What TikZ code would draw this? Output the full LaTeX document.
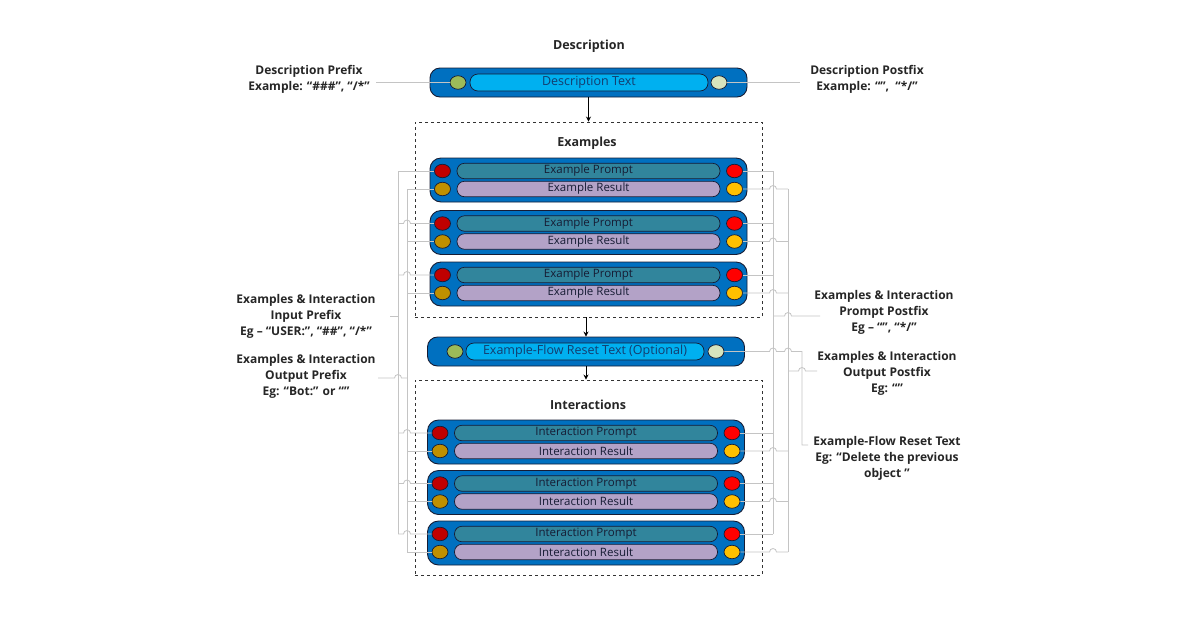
\documentclass[tikz,border=0pt]{standalone}
\usepackage{fontspec}
\setmainfont{Open Sans}
\usetikzlibrary{arrows.meta,positioning,calc,shapes.geometric}
\definecolor{barc}{RGB}{0,112,192}
\definecolor{descc}{RGB}{0,176,240}
\definecolor{prc}{RGB}{49,133,156}
\definecolor{rsc}{RGB}{179,162,199}
\definecolor{redl}{RGB}{192,0,0}
\definecolor{redr}{RGB}{255,0,0}
\definecolor{ylwl}{RGB}{191,144,0}
\definecolor{ylwr}{RGB}{255,192,0}
\definecolor{grnl}{RGB}{155,187,89}
\definecolor{grnr}{RGB}{215,228,189}
\definecolor{wirec}{RGB}{196,196,196}
\definecolor{inkc}{RGB}{22,28,52}
\definecolor{dtxc}{RGB}{20,60,110}
\tikzset{bar/.style={draw=inkc,fill=barc,line width=.9pt,rounded corners=11pt,minimum width=317pt,minimum height=44pt},
 slim/.style={bar,minimum height=29pt,rounded corners=10pt},
 pill/.style={draw=inkc,line width=.7pt,rounded corners=7.5pt,minimum width=263pt,minimum height=15.5pt,inner sep=0pt,text=inkc,font=\fontsize{11.5}{12}\selectfont},
 pr/.style={pill,fill=prc},rs/.style={pill,fill=rsc},
 tx/.style={pill,fill=descc,text=dtxc,minimum width=238pt,minimum height=17pt,rounded corners=8pt,font=\fontsize{12.5}{13}\selectfont},
 dot/.style={ellipse,draw=inkc,line width=.7pt,minimum width=16pt,minimum height=13.5pt,inner sep=0pt},
 frame/.style={draw=black!80,dashed,line width=.9pt,minimum width=347pt,minimum height=195pt},
 wire/.style={draw=wirec,line width=.8pt},arr/.style={-{Stealth[length=5pt,width=5pt]},line width=.8pt},
 hop/.style={insert path={arc[start angle=180,end angle=0,radius=3.5pt]}},
 lbl/.style={align=center,text=black!85,font=\fontsize{12}{16}\selectfont\bfseries},
 ttl/.style={text=black!85,font=\fontsize{12.5}{14}\selectfont\bfseries}}
\begin{document}
\begin{tikzpicture}[x=1pt,y=-1pt]
\useasboundingbox (0,0) rectangle (1200,630);
% description
\node[ttl] (dtitle) at (589,46) {Description};
\node[slim] (desc) at (588.5,82.5) {};
\node[tx] (dtext) at (589,82.5) {Description Text};
\node[dot,fill=grnl] (dpl) at (458,82.5) {};\node[dot,fill=grnr] (dpr) at (719,82.5) {};
% frames
\node[frame] (exbox) at (588.5,219.5) {};\node[ttl] (extitle) at (587,143) {Examples};
\node[frame] (inbox) at (588.5,477.5) {};\node[ttl] (intitle) at (588,405) {Interactions};
\foreach \k/\x/\y/\t in {e1/588.5/180/Example,e2/588.5/232.5/Example,e3/588.5/284/Example,
 i1/586/442/Interaction,i2/586/492.5/Interaction,i3/586/543/Interaction}{
 \node[bar] (\k) at (\x,\y) {};
 \node[pr] (\k-p) at (\x,\y-9) {\t\ Prompt};\node[rs] (\k-r) at (\x,\y+9) {\t\ Result};
 \node[dot,fill=redl] (\k-pl) at (\x-146,\y-9) {};\node[dot,fill=redr] (\k-pr) at (\x+146,\y-9) {};
 \node[dot,fill=ylwl] (\k-rl) at (\x-146,\y+9) {};\node[dot,fill=ylwr] (\k-rr) at (\x+146,\y+9) {};}
% reset
\node[slim] (rs) at (586,351.5) {};
\node[tx] (rstext) at (585,351.5) {Example-Flow Reset Text (Optional)};
\node[dot,fill=grnl] (rs-dl) at (455,351.5) {};\node[dot,fill=grnr] (rs-dr) at (716,351.5) {};
\draw[arr] (desc.south) -- (exbox.north);
\draw[arr] (rs.north |- exbox.south) -- (rs.north);\draw[arr] (rs.south) -- (rs.south |- inbox.north);
% buses
\coordinate (ba) at (398,0);\coordinate (bb) at (407,0);\coordinate (bc) at (773,0);
\coordinate (bd) at (788,0);\coordinate (bz) at (802,0);
\draw[wire] (ba |- e1-pl) -- (ba |- i3-pl);\draw[wire] (bb |- e1-rl) -- (bb |- i3-rl);
\draw[wire] (bc |- e1-pr) -- (bc |- i3-pr);\draw[wire] (bd |- e1-rr) -- (bd |- i3-rr);
\draw[wire] (ba |- e1-pl) -- (e1-pl);
\foreach \k in {e2,e3,i1,i2,i3}
 \draw[wire] (ba |- \k-pl) -- ([xshift=-3.5pt]bb |- \k-pl) [hop] -- (\k-pl);
\foreach \k in {e1,e2,e3,i1,i2,i3}{
 \draw[wire] (bb |- \k-rl) -- (\k-rl);\draw[wire] (\k-pr) -- (bc |- \k-pr);
 \draw[wire] (\k-rr) -- ([xshift=-3.5pt]bc |- \k-rr) [hop] -- (bd |- \k-rr);}
% labels
\node[lbl] (dpre) at (309,79.5) {Description Prefix\\Example: “\#\#\#”, “/*”};
\coordinate (dpre-end) at (376,82.5);\draw[wire] (dpre-end) -- (dpl);
\node[lbl] (dpost) at (867,79.5) {Description Postfix\\Example: “”,~ “*/”};
\coordinate (dpost-end) at (800,82.5);\draw[wire] (dpr) -- (dpost-end);
\node[lbl] (inpre) at (306,316) {Examples \& Interaction\\Input Prefix\\Eg – “USER:”, “\#\#”, “/*”};
\coordinate (inpre-end) at (390,316);\draw[wire] (inpre-end) -- (ba |- inpre-end);
\node[lbl] (outpre) at (306,376) {Examples \& Interaction\\Output Prefix\\Eg: “Bot:” or “”};
\coordinate (outpre-end) at (378,378);
\draw[wire] (outpre-end) -- ([xshift=-3.5pt]ba |- outpre-end) [hop] -- (bb |- outpre-end);
\node[lbl] (prpost) at (884,312) {Examples \& Interaction\\Prompt Postfix\\Eg – “”, “*/”};
\coordinate (prpost-end) at (820,316);
\draw[wire] (bc |- prpost-end) -- ([xshift=-3.5pt]bd |- prpost-end) [hop] -- (prpost-end);
\node[lbl] (outpost) at (887,373) {Examples \& Interaction\\Output Postfix\\Eg: “”};
\coordinate (outpost-end) at (817,371);
\draw[wire] (bd |- outpost-end) -- ([xshift=-3.5pt]bz |- outpost-end) [hop] -- (outpost-end);
\node[lbl] (rspost) at (887,458) {Example-Flow Reset Text\\Eg: “Delete the previous\\object ”};
\coordinate (rs-end) at (808,445);
\draw[wire] (rs-dr) -- ([xshift=-3.5pt]bc |- rs-dr) [hop] -- ([xshift=-3.5pt]bd |- rs-dr) [hop]
 -- (bz |- rs-dr) -- (bz |- rs-end) -- (rs-end);
\end{tikzpicture}
\end{document}
